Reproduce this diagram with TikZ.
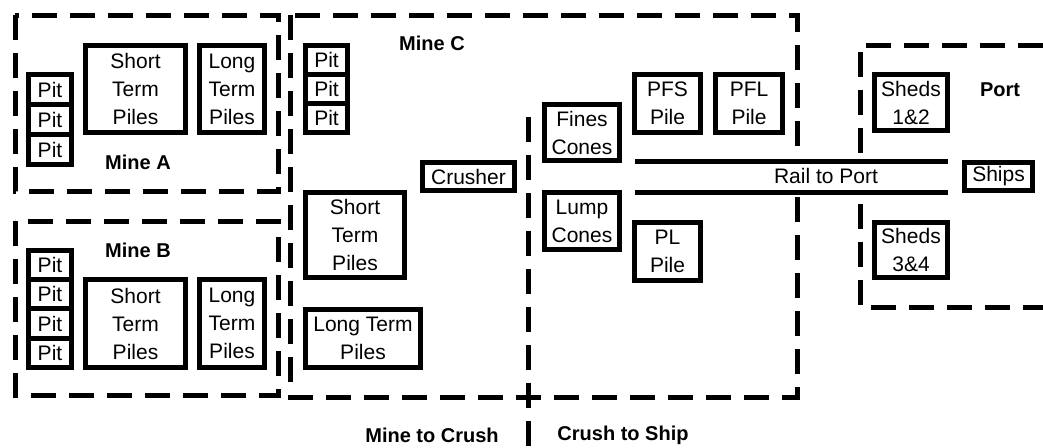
\documentclass[tikz,border=0pt]{standalone}
\usepackage{fontspec}
\setmainfont{Liberation Sans}
\begin{document}
\begin{tikzpicture}[x=1pt,y=-1pt,
  box/.style={draw, line width=5pt, fill=white, align=center, inner sep=0pt,
    font=\fontsize{21}{28}\selectfont},
  zone/.style={draw, line width=5pt, dash pattern=on 25pt off 13pt},
  lbl/.style={font=\fontsize{20}{24}\selectfont\bfseries, inner sep=0pt},
  txt/.style={font=\fontsize{21}{24}\selectfont, inner sep=0pt}]
\useasboundingbox (0,0) rectangle (1043,447);
% zones
\draw[zone] (15,15) rectangle (278,191);
\draw[zone] (15,221) rectangle (278,395);
\draw[zone] (290,15) rectangle (797,397);
\coordinate (dtop) at (528,117);
\coordinate (dbot) at (528,447);
\draw[zone] (dtop) -- (dbot);
\draw[zone] (1043,45) -- (860,45) -- (860,307) -- (1043,307);
% rail
\node[fill=white, minimum width=313pt, minimum height=30pt, inner sep=0pt] (rail) at (791.5,177) {};
\draw[line width=5pt] (rail.north west) -- (rail.north east);
\draw[line width=5pt] (rail.south west) -- (rail.south east);
\node[txt] (railtxt) at (826,176) {Rail to Port};
% Mine A
\node[box, minimum width=43pt, minimum height=30pt] (pa1) at (50,89.5) {Pit};
\node[box, minimum width=43pt, minimum height=30pt] (pa2) at (50,119.5) {Pit};
\node[box, minimum width=43pt, minimum height=30pt] (pa3) at (50,149.5) {Pit};
\node[box, minimum width=100pt, minimum height=87pt] (stpa) at (135.5,89) {Short\\Term\\Piles};
\node[box, minimum width=65pt, minimum height=87pt] (ltpa) at (232,89) {Long\\Term\\Piles};
\node[lbl] (minea) at (138,162) {Mine A};
% Mine B
\node[box, minimum width=43pt, minimum height=29.25pt] (pb1) at (50,265.1) {Pit};
\node[box, minimum width=43pt, minimum height=29.25pt] (pb2) at (50,294.4) {Pit};
\node[box, minimum width=43pt, minimum height=29.25pt] (pb3) at (50,323.6) {Pit};
\node[box, minimum width=43pt, minimum height=29.25pt] (pb4) at (50,352.9) {Pit};
\node[box, minimum width=100pt, minimum height=88pt] (stpb) at (135.5,323.5) {Short\\Term\\Piles};
\node[box, minimum width=65pt, minimum height=88pt] (ltpb) at (232,323.5) {Long\\Term\\Piles};
\node[lbl] (mineb) at (138,250) {Mine B};
% Mine C
\node[box, minimum width=42pt, minimum height=29pt] (pc1) at (326.5,60) {Pit};
\node[box, minimum width=42pt, minimum height=29pt] (pc2) at (326.5,89) {Pit};
\node[box, minimum width=42pt, minimum height=29pt] (pc3) at (326.5,118) {Pit};
\node[box, minimum width=99pt, minimum height=85pt] (stpc) at (355,235) {Short\\Term\\Piles};
\node[box, minimum width=115pt, minimum height=58pt] (ltpc) at (363,338.5) {Long Term\\Piles};
\node[box, minimum width=92pt, minimum height=28pt] (crusher) at (468.5,176.5) {Crusher};
\node[lbl] (minec) at (432,43) {Mine C};
% Crush to ship
\node[box, minimum width=75pt, minimum height=56pt] (fines) at (582,132.5) {Fines\\Cones};
\node[box, minimum width=75pt, minimum height=57pt] (lump) at (582,221) {Lump\\Cones};
\node[box, minimum width=66pt, minimum height=58pt] (pfs) at (667.5,103.5) {PFS\\Pile};
\node[box, minimum width=67pt, minimum height=58pt] (pfl) at (749,103.5) {PFL\\Pile};
\node[box, minimum width=66pt, minimum height=58pt] (pl) at (667.5,251.5) {PL\\Pile};
% Port
\node[box, minimum width=73pt, minimum height=56pt] (sh12) at (911,102.5) {Sheds\\1\&2};
\node[box, minimum width=73pt, minimum height=55pt] (sh34) at (911,250) {Sheds\\3\&4};
\node[box, minimum width=68pt, minimum height=28pt] (ships) at (998.5,176.5) {Ships};
\node[lbl] (port) at (1000,90) {Port};
% bottom labels
\node[lbl] (m2c) at (432,435) {Mine to Crush};
\node[lbl] (c2s) at (623,435) {Crush to Ship};
\end{tikzpicture}
\end{document}
